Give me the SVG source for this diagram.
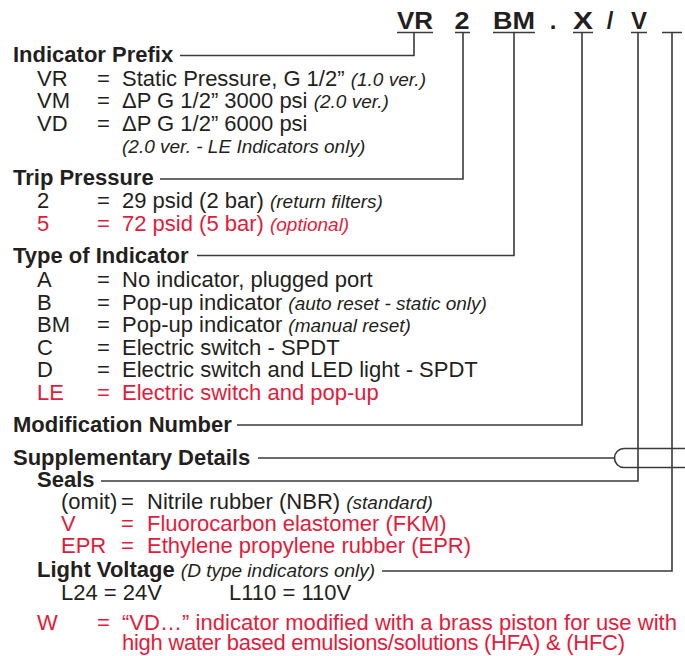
<svg xmlns="http://www.w3.org/2000/svg" width="685" height="656" viewBox="0 0 685 656">
<style>
  text { font-family: "Liberation Sans", Arial, Helvetica, sans-serif; font-size: 22px; fill: #231f20; }
  .b { font-weight: bold; }
  .i { font-style: italic; font-size: 19px; }
  .r { fill: #e31b3b; }
  .code { font-weight: bold; font-size: 24px; text-anchor: middle; }
  .ln { stroke: #3a3a3a; stroke-width: 1.6; fill: none; }
</style>
<rect width="685" height="656" fill="#ffffff"/>

<g id="code-line">
  <text class="code" x="415" y="29" textLength="36" lengthAdjust="spacingAndGlyphs">VR</text>
  <text class="code" x="462" y="29" textLength="15" lengthAdjust="spacingAndGlyphs">2</text>
  <text class="code" x="514" y="29" textLength="42" lengthAdjust="spacingAndGlyphs">BM</text>
  <text class="code" x="553" y="29">.</text>
  <text class="code" x="583" y="29" textLength="20" lengthAdjust="spacingAndGlyphs">X</text>
  <text class="code" x="610" y="29">/</text>
  <text class="code" x="639" y="29" textLength="16" lengthAdjust="spacingAndGlyphs">V</text>
</g>

<g id="connectors" class="ln">
  <path d="M397 32.5H433 M455 32.5H470 M493 32.5H535 M573 32.5H593 M631 32.5H647 M662 32.5H682"/>
  <path d="M414 32.5V55.5H180"/>
  <path d="M463 32.5V179H160"/>
  <path d="M514 32.5V255.5H197"/>
  <path d="M582 32.5V425H237"/>
  <path d="M638 32.5V481H101"/>
  <path d="M672 32.5V571H382"/>
  <path d="M258 458H614.5"/>
  <path d="M690 448.5H624 A9.5 9.5 0 0 0 624 467.5H690"/>
</g>

<g id="indicator-prefix">
  <text class="b" x="13" y="62">Indicator Prefix</text>
  <text x="37" y="86">VR</text><text x="97" y="86">=</text>
  <text x="122" y="86">Static Pressure, G 1/2” <tspan class="i">(1.0 ver.)</tspan></text>
  <text x="37" y="108">VM</text><text x="97" y="108">=</text>
  <text x="122" y="108">ΔP G 1/2” 3000 psi <tspan class="i">(2.0 ver.)</tspan></text>
  <text x="37" y="131">VD</text><text x="97" y="131">=</text>
  <text x="122" y="131">ΔP G 1/2” 6000 psi</text>
  <text class="i" x="122" y="153">(2.0 ver. - LE Indicators only)</text>
</g>

<g id="trip-pressure">
  <text class="b" x="13" y="185">Trip Pressure</text>
  <text x="37" y="208">2</text><text x="97" y="208">=</text>
  <text x="122" y="208">29 psid (2 bar) <tspan class="i">(return filters)</tspan></text>
  <text class="r" x="37" y="231">5</text><text class="r" x="97" y="231">=</text>
  <text class="r" x="122" y="231">72 psid (5 bar) <tspan class="i">(optional)</tspan></text>
</g>

<g id="type-of-indicator">
  <text class="b" x="13" y="263">Type of Indicator</text>
  <text x="37" y="287">A</text><text x="97" y="287">=</text>
  <text x="122" y="287">No indicator, plugged port</text>
  <text x="37" y="310">B</text><text x="97" y="310">=</text>
  <text x="122" y="310">Pop-up indicator <tspan class="i">(auto reset - static only)</tspan></text>
  <text x="37" y="332">BM</text><text x="97" y="332">=</text>
  <text x="122" y="332">Pop-up indicator <tspan class="i">(manual reset)</tspan></text>
  <text x="37" y="355">C</text><text x="97" y="355">=</text>
  <text x="122" y="355">Electric switch - SPDT</text>
  <text x="37" y="377">D</text><text x="97" y="377">=</text>
  <text x="122" y="377">Electric switch and LED light - SPDT</text>
  <text class="r" x="37" y="400">LE</text><text class="r" x="97" y="400">=</text>
  <text class="r" x="122" y="400">Electric switch and pop-up</text>
</g>

<g id="modification-number">
  <text class="b" x="13" y="432">Modification Number</text>
</g>

<g id="supplementary-details">
  <text class="b" x="13" y="465">Supplementary Details</text>
</g>

<g id="seals">
  <text class="b" x="37" y="487">Seals</text>
  <text x="61" y="509">(omit)</text><text x="121" y="509">=</text>
  <text x="147" y="509">Nitrile rubber (NBR) <tspan class="i">(standard)</tspan></text>
  <text class="r" x="61" y="531">V</text><text class="r" x="121" y="531">=</text>
  <text class="r" x="147" y="531">Fluorocarbon elastomer (FKM)</text>
  <text class="r" x="61" y="553">EPR</text><text class="r" x="121" y="553">=</text>
  <text class="r" x="147" y="553">Ethylene propylene rubber (EPR)</text>
</g>

<g id="light-voltage">
  <text x="37" y="577"><tspan class="b">Light Voltage</tspan> <tspan class="i">(D type indicators only)</tspan></text>
  <text x="61" y="600">L24 = 24V</text>
  <text x="229" y="600">L110 = 110V</text>
</g>

<g id="option-w">
  <text class="r" x="37" y="630">W</text><text class="r" x="97" y="630">=</text>
  <text class="r" x="122" y="630" textLength="555" lengthAdjust="spacing">“VD…” indicator modified with a brass piston for use with</text>
  <text class="r" x="122" y="650" textLength="503" lengthAdjust="spacing">high water based emulsions/solutions (HFA) &amp; (HFC)</text>
</g>
</svg>
